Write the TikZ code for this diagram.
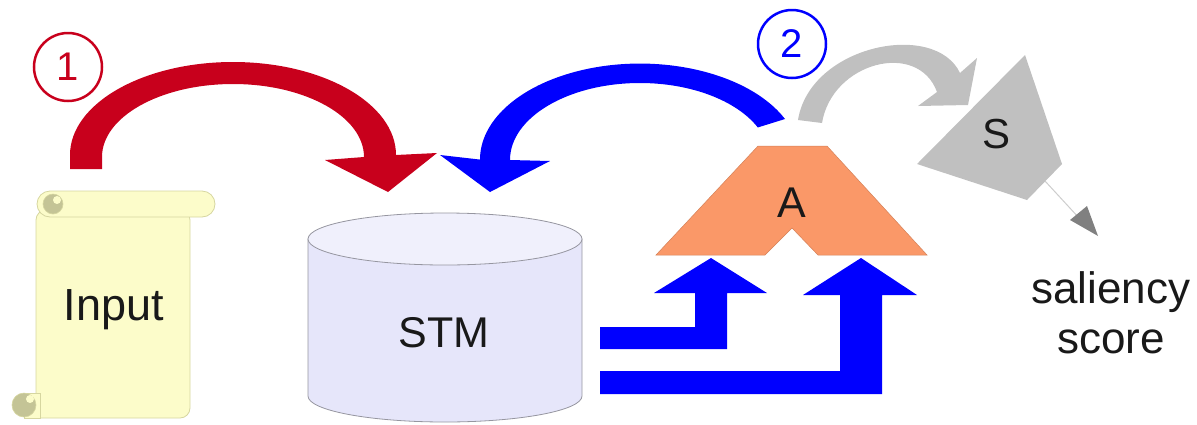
\documentclass[tikz,border=0pt]{standalone}
\usepackage{fontspec}
\setmainfont{Liberation Sans}
\definecolor{redarc}{RGB}{200,0,28}
\definecolor{scrollfill}{RGB}{252,252,202}
\definecolor{scrolledge}{RGB}{214,214,160}
\definecolor{curlcol}{RGB}{196,196,150}
\definecolor{cylfill}{RGB}{230,230,250}
\definecolor{cyledge}{RGB}{150,150,160}
\definecolor{aorange}{RGB}{250,152,104}
\definecolor{sgray}{RGB}{192,192,192}
\definecolor{dgray}{RGB}{128,128,128}
\begin{document}
\begin{tikzpicture}[x=1pt,y=-1pt,
  lbl/.style={font=\fontsize{44}{50}\selectfont, inner sep=0pt, anchor=base, text=black!90},
  numcircle/.style={circle, draw, line width=2.5pt, minimum size=68pt, inner sep=0pt,
    font=\fontsize{40}{44}\selectfont},
  scrollpart/.style={fill=scrollfill, draw=scrolledge, line width=0.8pt},
  curlpart/.style={fill=curlcol, draw=scrolledge, line width=0.6pt},
  cylpart/.style={fill=cylfill, draw=cyledge, line width=0.8pt}]
\useasboundingbox (0,0) rectangle (1197,424);

% ---- Input scroll ----
\filldraw[scrollpart] (36,210) -- (36,418) [rounded corners=10] -- (190,418) -- (190,210) -- cycle;
\filldraw[scrollpart] (24,393) rectangle (40,418);
\fill[scrollfill] (26,394) rectangle (37.5,417);
\filldraw[curlpart] (24,405) circle[radius=12];
\fill[scrollfill] (30,399) circle[radius=4];
\filldraw[scrollpart, rounded corners=13] (37,191) rectangle (215,217);
\filldraw[curlpart] (53,204) circle[radius=10];
\fill[scrollfill] (57,200) circle[radius=4];
\node[lbl, font=\fontsize{45}{50}\selectfont] (input) at (114,320) {Input};

% ---- STM cylinder ----
\filldraw[cylpart] (308,239) -- (308,396) arc[start angle=180, end angle=0, x radius=137, y radius=26] -- (582,239) -- cycle;
\filldraw[cylpart, fill=cylfill!60!white] (445,239) ellipse[x radius=137, y radius=26];
\node[lbl, font=\fontsize{43}{50}\selectfont] (stm) at (444,347) {STM};

% ---- A shape ----
\filldraw[fill=aorange, draw=aorange!85!black, line width=0.5pt]
  (758,146) -- (827,146) -- (927,255) -- (818,255) -- (792,228) -- (765,255) -- (656,255) -- cycle;
\node[lbl, font=\fontsize{43}{50}\selectfont] (alabel) at (792,217) {A};

% ---- S shape ----
\fill[sgray] (1025,55) -- (1062,164) -- (1027,200) -- (917,164) -- cycle;
\node[lbl, font=\fontsize{42}{50}\selectfont] (slabel) at (996,148) {S};

% ---- small output arrow ----
\coordinate (sout) at (1045,181);
\coordinate (shead) at (1080,219);
\draw[sgray!80!white, line width=1pt] (sout) -- (shead);
\fill[dgray] (1070,220) -- (1087,206) -- (1098,236) -- cycle;

\node[lbl] (sal1) at (1111,303) {saliency};
\node[lbl] (sal2) at (1111,353) {score};

% ---- number circles ----
\node[numcircle, draw=redarc, text=redarc] (c1) at (68,67) {1};
\node[numcircle, draw=blue, text=blue] (c2) at (792,44) {2};

% ---- red curved arrow ----
\fill[redarc] (70,169) -- (70,155) arc[start angle=180, end angle=360, x radius=163, y radius=93]
  -- (437,153) -- (388,192) -- (325,160) -- (364,157)
  arc[start angle=360, end angle=180, x radius=131, y radius=73] -- (102,169) -- cycle;

% ---- blue curved arrow ----
\fill[blue] (785,119) arc[start angle=335, end angle=180, x radius=160, y radius=96]
  -- (440,155) -- (490,192) -- (550,161) -- (510,160)
  arc[start angle=180, end angle=335, x radius=130, y radius=77] -- cycle;

% ---- gray curved arrow ----
\fill[sgray] (798,120) .. controls (810,45) and (935,20) .. (960,73)
  -- (977,58) -- (968,105) -- (918,106) -- (937,92)
  .. controls (918,40) and (832,62) .. (822,123) -- cycle;

% ---- blue elbow arrows ----
\fill[blue] (600,327) -- (695,327) -- (695,293) -- (654,293) -- (711,258) -- (767,293)
  -- (727,293) -- (727,349) -- (600,349) -- cycle;
\fill[blue] (600,371) -- (840,371) -- (840,295) -- (803,295) -- (861,258) -- (917,295)
  -- (882,295) -- (882,394) -- (600,394) -- cycle;
\end{tikzpicture}
\end{document}
